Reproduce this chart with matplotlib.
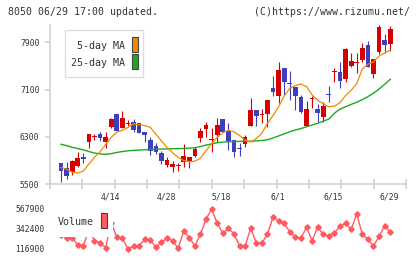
import numpy as np
import matplotlib
matplotlib.use('Agg')
import matplotlib.pyplot as plt
from matplotlib.patches import Rectangle

plt.rcParams['font.family'] = 'DejaVu Sans Mono'

# daily candles, 4/1 .. 6/29
opens = [5851, 5766, 5708, 5810, 5963, 6217, 6290, 6348, 6207, 6471,
         6687, 6444, 6517, 6546, 6528, 6386, 6246, 6144, 6030, 5827,
         5788, 5805, 5868, 5868, 5980, 6285, 6432, 6241, 6331, 6602,
         6403, 6246, 6100, 6183, 6488, 6754, 6675, 6692, 7127, 6997,
         7471, 7195, 7149, 6980, 6483, 6946, 6771, 6636, 7008, 7393,
         7393, 7280, 7505, 7546, 7602, 7856, 7359, 7737, 7941, 7873]
closes = [5726, 5641, 5890, 5946, 5919, 6348, 6291, 6280, 6302, 6607,
          6399, 6614, 6518, 6420, 6370, 6331, 6064, 6047, 5895, 5907,
          5839, 5806, 5975, 5958, 6098, 6398, 6505, 6242, 6500, 6387,
          6217, 6047, 6098, 6297, 6754, 6653, 6676, 6924, 7054, 7432,
          7234, 7190, 6992, 6726, 6771, 6947, 6703, 6822, 7005, 7395,
          7246, 7788, 7585, 7547, 7810, 7488, 7619, 8166, 7856, 8127]
highs = [5855, 5870, 5907, 6037, 6030, 6348, 6354, 6381, 6381, 6624,
         6687, 6743, 6580, 6602, 6540, 6386, 6292, 6190, 6064, 5953,
         5890, 5861, 6180, 5958, 6132, 6454, 6556, 6449, 6615, 6602,
         6530, 6246, 6200, 6331, 6957, 6754, 6771, 6924, 7330, 7568,
         7471, 7420, 7149, 7008, 6907, 6992, 6856, 6890, 7161, 7471,
         7563, 7805, 7715, 7725, 7895, 7924, 7619, 8195, 8043, 8178]
lows = [5539, 5585, 5658, 5793, 5861, 6105, 6254, 6229, 6115, 6454,
        6399, 6444, 6483, 6376, 6370, 6217, 5992, 6008, 5839, 5783,
        5708, 5725, 5793, 5776, 5953, 6217, 6292, 6047, 6217, 6376,
        6070, 5953, 5975, 6132, 6488, 6488, 6534, 6461, 7000, 6878,
        7010, 6930, 6754, 6708, 6483, 6793, 6556, 6556, 6895, 7224,
        7122, 7229, 7478, 7376, 7568, 7488, 7302, 7698, 7725, 7754]

ma5 = [5780, 5750, 5700, 5685, 5720, 5840, 5950, 6047, 6170, 6290,
       6380, 6410, 6460, 6520, 6505, 6490, 6460, 6345, 6230, 6120,
       6030, 5950, 5895, 5880, 5885, 5940, 6065, 6185, 6290, 6370,
       6410, 6385, 6320, 6246, 6210, 6270, 6360, 6530, 6660, 6810,
       6990, 7122, 7170, 7195, 7150, 7010, 6920, 6860, 6810, 6820,
       6880, 7000, 7090, 7200, 7450, 7530, 7570, 7670, 7720, 7770]
ma25 = [6173, 6150, 6122, 6100, 6080, 6050, 6025, 6010, 6003, 6015,
        6035, 6050, 6063, 6070, 6076, 6080, 6085, 6090, 6093, 6095,
        6098, 6100, 6102, 6108, 6115, 6135, 6160, 6180, 6200, 6210,
        6217, 6220, 6222, 6224, 6226, 6230, 6238, 6250, 6280, 6315,
        6350, 6386, 6415, 6440, 6470, 6500, 6530, 6565, 6600, 6700,
        6770, 6810, 6850, 6885, 6930, 6980, 7040, 7110, 7190, 7274]

volume = [275000, 240900, 240900, 162000, 154100, 331100, 210500, 187900, 131600, 410000,
          248800, 237500, 116900, 150700, 150700, 226300, 218400, 136100, 192400, 237500,
          210500, 124800, 319900, 244300, 150700, 286000, 455150, 567900, 406700, 293900,
          350300, 288300, 150700, 150700, 350300, 184550, 184550, 283800, 477700, 432600,
          406700, 308600, 255600, 237500, 362700, 209400, 361600, 280400, 260100, 297300,
          372800, 406700, 339000, 509300, 283800, 226300, 150700, 260100, 378500, 308600]

date_labels = ['4/14', '4/28', '5/18', '6/1', '6/15', '6/29']
date_idx = [9, 19, 29, 39, 49, 59]
price_ticks = [5500, 6300, 7100, 7900]
vol_ticks = [116900, 342400, 567900]

RED = '#d60000'
BLUE = '#3e3ebf'
ORANGE = '#f08a00'
GREEN = '#1ea81e'
VOLC = '#ff5a60'
GRID = '#d2d2d2'
TXT = '#333333'

W, H = 420, 259
fig = plt.figure(figsize=(W / 100, H / 100), dpi=100)


def fx(px):
    return px / W


def fy(py):
    return 1 - py / H


x = np.arange(len(opens))
xlim = ((50 - 61) / 5.58, (406 - 61) / 5.58)

# price panel
ax = fig.add_axes([fx(50), fy(184), fx(406) - fx(50), fy(25) - fy(184)])
ax.set_xlim(xlim)
ax.set_ylim(5500, 8195)

o = np.array(opens)
c = np.array(closes)
up = c >= o
cols = np.where(up, RED, BLUE)
ax.vlines(x, lows, highs, colors=cols, lw=0.8, zorder=2)
bottoms = np.minimum(o, c)
heights = np.maximum(np.abs(c - o), 17)
ax.bar(x, heights, bottom=bottoms, width=0.84, color=cols, lw=0, zorder=2)

ax.plot(x, ma25, color=GREEN, lw=1.0, zorder=3)
ax.plot(x, ma5, color=ORANGE, lw=0.9, zorder=3)

for s in ['top', 'right']:
    ax.spines[s].set_visible(False)
for s in ['left', 'bottom']:
    ax.spines[s].set_color(GRID)
    ax.spines[s].set_linewidth(1.2)
ax.set_xticks(np.linspace(xlim[0], xlim[1], 12))
ax.tick_params(axis='x', direction='inout', length=6.5, width=1.2, color=GRID,
               labelbottom=False)
ax.set_yticks(price_ticks)
ax.set_yticklabels([str(t) for t in price_ticks])
ax.tick_params(axis='y', direction='out', length=3.6, width=1.2, color=GRID,
               labelsize=5.8, labelcolor=TXT, pad=4)

for lab, i in zip(date_labels, date_idx):
    ax.text(i - 0.2, -0.082, lab, transform=ax.get_xaxis_transform(),
            ha='center', va='center', fontsize=5.8, color=TXT)

# volume panel
vpx = 11275
ax2 = fig.add_axes([fx(50), fy(255), fx(406) - fx(50), fy(203) - fy(255)])
ax2.set_xlim(xlim)
ax2.set_ylim(116900 - 6 * vpx, 567900 + 6 * vpx)
ax2.plot(x, volume, color=VOLC, lw=1.0, marker='D', ms=2.8, mec=VOLC, mfc=VOLC)
for s in ax2.spines.values():
    s.set_visible(False)
ax2.set_xticks([])
ax2.set_yticks(vol_ticks)
ax2.set_yticklabels([str(t) for t in vol_ticks])
ax2.tick_params(axis='y', length=0, labelsize=5.8, labelcolor=TXT, pad=4.1)

# header
fig.text(fx(8), fy(12), '8050 06/29 17:00 updated.', ha='left', va='center',
         fontsize=7.1, color=TXT)
fig.text(fx(410), fy(12), '(C)https://www.rizumu.net/', ha='right', va='center',
         fontsize=7.1, color=TXT)

# price legend
fig.patches.append(Rectangle((fx(65), fy(77)), fx(143) - fx(65), fy(30) - fy(77),
                             transform=fig.transFigure, fc='white', ec='#dddddd', lw=1.0))
fig.text(fx(125), fy(46), '5-day MA', ha='right', va='center', fontsize=7.2, color=TXT)
fig.text(fx(125), fy(63), '25-day MA', ha='right', va='center', fontsize=7.2, color=TXT)
fig.patches.append(Rectangle((fx(132), fy(52)), fx(137.5) - fx(132), fy(37) - fy(52),
                             transform=fig.transFigure, fc=ORANGE, ec='#444444', lw=0.8))
fig.patches.append(Rectangle((fx(132), fy(69)), fx(137.5) - fx(132), fy(54) - fy(69),
                             transform=fig.transFigure, fc=GREEN, ec='#444444', lw=0.8))

# volume legend
fig.patches.append(Rectangle((fx(54), fy(237)), fx(113) - fx(54), fy(207) - fy(237),
                             transform=fig.transFigure, fc='white', ec='none'))
fig.text(fx(58), fy(222), 'Volume', ha='left', va='center', fontsize=7.2, color=TXT)
fig.patches.append(Rectangle((fx(101), fy(228)), fx(107) - fx(101), fy(213) - fy(228),
                             transform=fig.transFigure, fc=VOLC, ec='#444444', lw=0.8))

fig.savefig('out.png', dpi=100)
